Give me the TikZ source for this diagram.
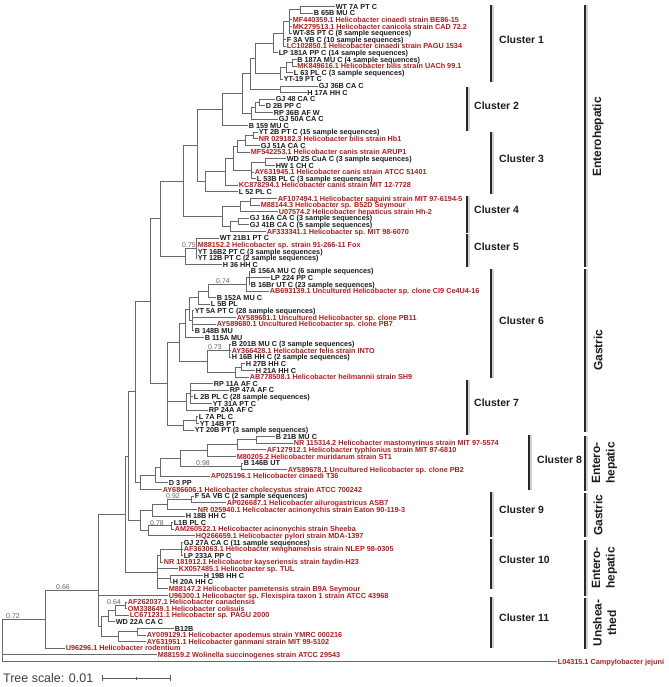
\documentclass[tikz,border=0pt]{standalone}
\usepackage{fontspec}
\setmainfont{Liberation Sans}
\usepackage{tikz}
\definecolor{treegray}{RGB}{105,105,105}
\definecolor{leafred}{RGB}{172,30,30}
\definecolor{leafblack}{RGB}{28,28,28}
\definecolor{bargray}{RGB}{40,40,40}

\begin{document}
\begin{tikzpicture}[x=1bp, y=-1bp,
    leaf/.style={anchor=west, inner xsep=0.6bp, inner ysep=0pt, text height=5.2bp, text depth=0pt, font=\fontsize{7.3}{8}\selectfont\bfseries, text=leafblack},
    redleaf/.style={leaf, text=leafred},
    branch/.style={draw=treegray, line width=0.85bp},
    boot/.style={anchor=south, inner sep=0.4bp, font=\fontsize{7}{8}\selectfont, text=black!62},
    clbar/.style={draw=bargray, line width=1.6bp},
    clshadow/.style={draw=black!18, line width=1.8bp},
    cltext/.style={anchor=west, inner sep=0pt, font=\fontsize{10.5}{12}\selectfont\bfseries, text=leafblack},
    grtext/.style={rotate=90, align=center, inner sep=0pt, font=\fontsize{12}{14.5}\selectfont\bfseries, text=leafblack},
    scalebar/.style={draw=black!65, line width=0.9bp}]

\useasboundingbox (0,0) rectangle (669,687);

% leaves, top to bottom
\node[leaf] (wt7A) at (335,6.6) {WT 7A PT C};
\node[leaf] (b65B) at (313,13.2) {B 65B MU C};
\node[redleaf] (mf440359) at (292,19.8) {MF440359.1 Helicobacter cinaedi strain BE86-15};
\node[redleaf] (mk279513) at (292,26.5) {MK279513.1 Helicobacter canicola strain CAD 72.2};
\node[leaf] (wt8S) at (292,33.1) {WT-8S PT C (8 sample sequences)};
\node[leaf] (f3A) at (286,39.7) {F 3A VB C (10 sample sequences)};
\node[redleaf] (lc102850) at (286,46.3) {LC102850.1 Helicobacter cinaedi strain PAGU 1534};
\node[leaf] (lp181A) at (278,52.9) {LP 181A PP C (14 sample sequences)};
\node[leaf] (b187A) at (296.5,59.5) {B 187A MU C (4 sample sequences)};
\node[redleaf] (mk849616) at (296.5,66.2) {MK849616.1 Helicobacter bilis strain UACh 99.1};
\node[leaf] (l63) at (293,72.8) {L 63 PL C (3 sample sequences)};
\node[leaf] (yt19) at (283,79.4) {YT-19 PT C};
\node[leaf] (gj36B) at (318,86.0) {GJ 36B CA C};
\node[leaf] (h17A) at (306.5,92.6) {H 17A HH C};
\node[leaf] (gj48) at (275,99.2) {GJ 48 CA C};
\node[leaf] (d2B) at (265,105.8) {D 2B PP C};
\node[leaf] (rp36B) at (273,112.5) {RP 36B AF W};
\node[leaf] (gj50A) at (278,119.1) {GJ 50A CA C};
\node[leaf] (b159) at (248,125.7) {B 159 MU C};
\node[leaf] (yt2B) at (258,132.3) {YT 2B PT C (15 sample sequences)};
\node[redleaf] (nr029182) at (258,138.9) {NR 029182.3 Helicobacter bilis strain Hb1};
\node[leaf] (gj51A) at (260,145.5) {GJ 51A CA C};
\node[redleaf] (mf542253) at (250,152.1) {MF542253.1 Helicobacter canis strain ARUP1};
\node[leaf] (wd2S) at (286,158.8) {WD 2S CuA C (3 sample sequences)};
\node[leaf] (hw1) at (275,165.4) {HW 1 CH C};
\node[redleaf] (ay631945) at (254,172.0) {AY631945.1 Helicobacter canis strain ATCC 51401};
\node[leaf] (l53B) at (256,178.6) {L 53B PL C (3 sample sequences)};
\node[redleaf] (kc878294) at (238,185.2) {KC878294.1 Helicobacter canis strain MIT 12-7728};
\node[leaf] (l52) at (238,191.8) {L 52 PL C};
\node[redleaf] (af107494) at (277,198.5) {AF107494.1 Helicobacter saguini strain MIT 97-6194-5};
\node[redleaf] (m88144) at (260,205.1) {M88144.3 Helicobacter sp. B52D Seymour};
\node[redleaf] (u07574) at (278,211.7) {U07574.2 Helicobacter hepaticus strain Hh-2};
\node[leaf] (gj16A) at (249,218.3) {GJ 16A CA C (3 sample sequences)};
\node[leaf] (gj41B) at (249,224.9) {GJ 41B CA C (5 sample sequences)};
\node[redleaf] (af333341) at (266,231.5) {AF333341.1 Helicobacter sp. MIT 98-6070};
\node[leaf] (wt21B1) at (219,238.1) {WT 21B1 PT C};
\node[redleaf] (m88152) at (197,244.8) {M88152.2 Helicobacter sp. strain 91-266-11 Fox};
\node[leaf] (yt16B2) at (197,251.4) {YT 16B2 PT C (3 sample sequences)};
\node[leaf] (yt12B) at (197,258.0) {YT 12B PT C (2 sample sequences)};
\node[leaf] (h36) at (222,264.6) {H 36 HH C};
\node[leaf] (b156A) at (250,271.2) {B 156A MU C (6 sample sequences)};
\node[leaf] (lp224) at (270,277.8) {LP 224 PP C};
\node[leaf] (b16Br) at (250,284.4) {B 16Br UT C (23 sample sequences)};
\node[redleaf] (ab693139) at (269,291.1) {AB693139.1 Uncultured Helicobacter sp. clone CI9 Ce4U4-16};
\node[leaf] (b152A) at (216,297.7) {B 152A MU C};
\node[leaf] (l5B) at (210,304.3) {L 5B PL};
\node[leaf] (yt5A) at (194,310.9) {YT 5A PT C (28 sample sequences)};
\node[redleaf] (ay589681) at (236,317.5) {AY589681.1 Uncultured Helicobacter sp. clone PB11};
\node[redleaf] (ay589680) at (216,324.1) {AY589680.1 Uncultured Helicobacter sp. clone PB7};
\node[leaf] (b148B) at (194,330.8) {B 148B MU};
\node[leaf] (b115A) at (204,337.4) {B 115A MU};
\node[leaf] (b201B) at (231,344.0) {B 201B MU C (3 sample sequences)};
\node[redleaf] (ay366428) at (231,350.6) {AY366428.1 Helicobacter felis strain INTO};
\node[leaf] (h16B) at (231,357.2) {H 16B HH C (2 sample sequences)};
\node[leaf] (h27B) at (245,363.8) {H 27B HH C};
\node[leaf] (h21A) at (255,370.4) {H 21A HH C};
\node[redleaf] (ab778508) at (249,377.1) {AB778508.1 Helicobacter heilmannii strain SH9};
\node[leaf] (rp11A) at (213,383.7) {RP 11A AF C};
\node[leaf] (rp47A) at (229,390.3) {RP 47A AF C};
\node[leaf] (l2B) at (193,396.9) {L 2B PL C (28 sample sequences)};
\node[leaf] (yt31A) at (212,403.5) {YT 31A PT C};
\node[leaf] (rp24A) at (208,410.1) {RP 24A AF C};
\node[leaf] (l7A) at (198,416.7) {L 7A PL C};
\node[leaf] (yt14B) at (199,423.4) {YT 14B PT};
\node[leaf] (yt20B) at (194,430.0) {YT 20B PT (3 sample sequences)};
\node[leaf] (b21B) at (275,436.6) {B 21B MU C};
\node[redleaf] (nr115314) at (293,443.2) {NR 115314.2 Helicobacter mastomyrinus strain MIT 97-5574};
\node[redleaf] (af127912) at (266,449.8) {AF127912.1 Helicobacter typhlonius strain MIT 97-6810};
\node[redleaf] (m80205) at (236,456.4) {M80205.2 Helicobacter muridarum strain ST1};
\node[leaf] (b146B) at (243,463.1) {B 146B UT};
\node[redleaf] (ay589678) at (287,469.7) {AY589678.1 Uncultured Helicobacter sp. clone PB2};
\node[redleaf] (ap025196) at (210,476.3) {AP025196.1 Helicobacter cinaedi T36};
\node[leaf] (d3) at (168,482.9) {D 3 PP};
\node[redleaf] (ay686606) at (162,489.5) {AY686606.1 Helicobacter cholecystus strain ATCC 700242};
\node[leaf] (f5A) at (194,496.1) {F 5A VB C (2 sample sequences)};
\node[redleaf] (ap026687) at (226,502.7) {AP026687.1 Helicobacter ailurogastricus ASB7};
\node[redleaf] (nr025940) at (197,509.4) {NR 025940.1 Helicobacter acinonychis strain Eaton 90-119-3};
\node[leaf] (h18B) at (185,516.0) {H 18B HH C};
\node[leaf] (l1B) at (173,522.6) {L1B PL C};
\node[redleaf] (am260522) at (174,529.2) {AM260522.1 Helicobacter acinonychis strain Sheeba};
\node[redleaf] (hq266659) at (195,535.8) {HQ266659.1 Helicobacter pylori strain MDA-1397};
\node[leaf] (gj27A) at (183,542.4) {GJ 27A CA C (11 sample sequences)};
\node[redleaf] (af363063) at (183,549.0) {AF363063.1 Helicobacter winghamensis strain NLEP 98-0305};
\node[leaf] (lp233A) at (183,555.7) {LP 233A PP C};
\node[redleaf] (nr181912) at (163,562.3) {NR 181912.1 Helicobacter kayseriensis strain faydin-H23};
\node[redleaf] (kx057485) at (178,568.9) {KX057485.1 Helicobacter sp. TUL};
\node[leaf] (h19B) at (203,575.5) {H 19B HH C};
\node[leaf] (h20A) at (172,582.1) {H 20A HH C};
\node[redleaf] (m88147) at (168,588.7) {M88147.2 Helicobacter pametensis strain B9A Seymour};
\node[redleaf] (u96300) at (168,595.4) {U96300.1 Helicobacter sp. Flexispira taxon 1 strain ATCC 43968};
\node[redleaf] (af262037) at (127,602.0) {AF262037.1 Helicobacter canadensis};
\node[redleaf] (om338649) at (127,608.6) {OM338649.1 Helicobacter colisuis};
\node[redleaf] (lc671231) at (129,615.2) {LC671231.1 Helicobacter sp. PAGU 2000};
\node[leaf] (wd22A) at (115,621.8) {WD 22A CA C};
\node[leaf] (b12B) at (174,628.4) {B12B};
\node[redleaf] (ay009129) at (146,635.0) {AY009129.1 Helicobacter apodemus strain YMRC 000216};
\node[redleaf] (ay631951) at (146,641.7) {AY631951.1 Helicobacter ganmani strain MIT 99-5102};
\node[redleaf] (u96296) at (65,648.3) {U96296.1 Helicobacter rodentium};
\node[redleaf] (m88159) at (157,654.9) {M88159.2 Wolinella succinogenes strain ATCC 29543};
\node[redleaf] (l04315) at (557,661.5) {L04315.1 Campylobacter jejuni};

% inner nodes
\coordinate (n1) at (300,9.9);
\coordinate (n2) at (289,21.5);
\coordinate (n3) at (283,33.9);
\coordinate (n4) at (273,43.4);
\coordinate (n5) at (292.5,62.8);
\coordinate (n6) at (286,67.8);
\coordinate (n7) at (280,73.6);
\coordinate (n8) at (255,58.5);
\coordinate (c2a) at (280,89.3);
\coordinate (nR) at (250,73.9);
\coordinate (c2b) at (259,102.5);
\coordinate (c2c) at (255,107.5);
\coordinate (c2d) at (251,113.3);
\coordinate (nQ) at (242,93.6);
\coordinate (nP) at (222,109.6);
\coordinate (c3a) at (253,135.6);
\coordinate (c3b) at (245,140.6);
\coordinate (c3c) at (237,146.4);
\coordinate (c3d) at (265,162.1);
\coordinate (c3e) at (251,170.3);
\coordinate (c3f) at (233,158.4);
\coordinate (c3g) at (225,171.8);
\coordinate (c3h) at (205,181.8);
\coordinate (nS) at (197,145.7);
\coordinate (c4a) at (250,201.8);
\coordinate (c4b) at (240,206.7);
\coordinate (c4c) at (238,221.6);
\coordinate (c4d) at (230,226.6);
\coordinate (c4e) at (222,216.6);
\coordinate (nU) at (183,181.2);
\coordinate (c5a) at (196,248.1);
\coordinate (c5b) at (185,256.3);
\coordinate (nV) at (160,218.8);
\coordinate (g1x) at (249,277.8);
\coordinate (g1) at (246,284.5);
\coordinate (g2) at (208,291.1);
\coordinate (g3) at (198,297.7);
\coordinate (g4) at (192,320.8);
\coordinate (g5) at (189,309.3);
\coordinate (g6) at (185,323.4);
\coordinate (f1) at (229,350.6);
\coordinate (f2) at (241,367.1);
\coordinate (f3) at (235,372.1);
\coordinate (f4) at (207,361.3);
\coordinate (g7) at (179,342.4);
\coordinate (h1) at (190,393.6);
\coordinate (h2) at (186,401.9);
\coordinate (h3) at (196,420.1);
\coordinate (h4) at (183,425.0);
\coordinate (nG) at (167,383.7);
\coordinate (nW) at (150,301.3);
\coordinate (e1) at (256,439.9);
\coordinate (e2) at (237,444.9);
\coordinate (e3) at (207,450.6);
\coordinate (e4) at (241,466.4);
\coordinate (e5) at (180,458.5);
\coordinate (e6) at (160,467.4);
\coordinate (e7) at (155,475.2);
\coordinate (e8) at (140,482.3);
\coordinate (nX) at (135,391.8);
\coordinate (k1) at (191,499.4);
\coordinate (k2) at (167,504.4);
\coordinate (k3) at (152,510.2);
\coordinate (k4) at (171,525.9);
\coordinate (k5) at (148,530.9);
\coordinate (k6) at (140,520.5);
\coordinate (nY) at (128,456.2);
\coordinate (m1) at (181,549.0);
\coordinate (m2) at (160,555.7);
\coordinate (m4) at (170,578.8);
\coordinate (m5) at (157,572.2);
\coordinate (nZ) at (125,514.2);
\coordinate (nZb) at (98,554.8);
\coordinate (p1) at (125,605.3);
\coordinate (p2) at (115,610.2);
\coordinate (p3) at (108,616.0);
\coordinate (p4) at (137,631.7);
\coordinate (p5) at (118,636.7);
\coordinate (p6) at (101,626.4);
\coordinate (nB) at (98,590.6);
\coordinate (nA) at (45,619.5);
\coordinate (root) at (2,640.5);

% branches
\draw[branch] (n1) |- (wt7A.west) (n1) |- (b65B.west);
\draw[branch] (n2) |- (n1) (n2) |- (mf440359.west) (n2) |- (mk279513.west) (n2) |- (wt8S.west);
\draw[branch] (n3) |- (n2) (n3) |- (f3A.west) (n3) |- (lc102850.west);
\draw[branch] (n4) |- (n3) (n4) |- (lp181A.west);
\draw[branch] (n5) |- (b187A.west) (n5) |- (mk849616.west);
\draw[branch] (n6) |- (n5) (n6) |- (l63.west);
\draw[branch] (n7) |- (n6) (n7) |- (yt19.west);
\draw[branch] (n8) |- (n4) (n8) |- (n7);
\draw[branch] (c2a) |- (gj36B.west) (c2a) |- (h17A.west);
\draw[branch] (nR) |- (n8) (nR) |- (c2a);
\draw[branch] (c2b) |- (gj48.west) (c2b) |- (d2B.west);
\draw[branch] (c2c) |- (c2b) (c2c) |- (rp36B.west);
\draw[branch] (c2d) |- (c2c) (c2d) |- (gj50A.west);
\draw[branch] (nQ) |- (nR) (nQ) |- (c2d);
\draw[branch] (nP) |- (nQ) (nP) |- (b159.west);
\draw[branch] (c3a) |- (yt2B.west) (c3a) |- (nr029182.west);
\draw[branch] (c3b) |- (c3a) (c3b) |- (gj51A.west);
\draw[branch] (c3c) |- (c3b) (c3c) |- (mf542253.west);
\draw[branch] (c3d) |- (wd2S.west) (c3d) |- (hw1.west);
\draw[branch] (c3e) |- (c3d) (c3e) |- (ay631945.west) (c3e) |- (l53B.west);
\draw[branch] (c3f) |- (c3c) (c3f) |- (c3e);
\draw[branch] (c3g) |- (c3f) (c3g) |- (kc878294.west);
\draw[branch] (c3h) |- (c3g) (c3h) |- (l52.west);
\draw[branch] (nS) |- (nP) (nS) |- (c3h);
\draw[branch] (c4a) |- (af107494.west) (c4a) |- (m88144.west);
\draw[branch] (c4b) |- (c4a) (c4b) |- (u07574.west);
\draw[branch] (c4c) |- (gj16A.west) (c4c) |- (gj41B.west);
\draw[branch] (c4d) |- (c4c) (c4d) |- (af333341.west);
\draw[branch] (c4e) |- (c4b) (c4e) |- (c4d);
\draw[branch] (nU) |- (nS) (nU) |- (c4e);
\draw[branch] (c5a) |- (wt21B1.west) (c5a) |- (m88152.west) (c5a) |- (yt16B2.west) (c5a) |- (yt12B.west);
\draw[branch] (c5b) |- (c5a) (c5b) |- (h36.west);
\draw[branch] (nV) |- (nU) (nV) |- (c5b);
\draw[branch] (g1x) |- (b156A.west) (g1x) |- (lp224.west) (g1x) |- (b16Br.west);
\draw[branch] (g1) |- (g1x) (g1) |- (ab693139.west);
\draw[branch] (g2) |- (g1) (g2) |- (b152A.west);
\draw[branch] (g3) |- (g2) (g3) |- (l5B.west);
\draw[branch] (g4) |- (yt5A.west) (g4) |- (ay589681.west) (g4) |- (ay589680.west) (g4) |- (b148B.west);
\draw[branch] (g5) |- (g3) (g5) |- (g4);
\draw[branch] (g6) |- (g5) (g6) |- (b115A.west);
\draw[branch] (f1) |- (b201B.west) (f1) |- (ay366428.west) (f1) |- (h16B.west);
\draw[branch] (f2) |- (h27B.west) (f2) |- (h21A.west);
\draw[branch] (f3) |- (f2) (f3) |- (ab778508.west);
\draw[branch] (f4) |- (f1) (f4) |- (f3);
\draw[branch] (g7) |- (g6) (g7) |- (f4);
\draw[branch] (h1) |- (rp11A.west) (h1) |- (rp47A.west) (h1) |- (l2B.west) (h1) |- (yt31A.west);
\draw[branch] (h2) |- (h1) (h2) |- (rp24A.west);
\draw[branch] (h3) |- (l7A.west) (h3) |- (yt14B.west);
\draw[branch] (h4) |- (h3) (h4) |- (yt20B.west);
\draw[branch] (nG) |- (g7) (nG) |- (h2) (nG) |- (h4);
\draw[branch] (nW) |- (nV) (nW) |- (nG);
\draw[branch] (e1) |- (b21B.west) (e1) |- (nr115314.west);
\draw[branch] (e2) |- (e1) (e2) |- (af127912.west);
\draw[branch] (e3) |- (e2) (e3) |- (m80205.west);
\draw[branch] (e4) |- (b146B.west) (e4) |- (ay589678.west);
\draw[branch] (e5) |- (e3) (e5) |- (e4);
\draw[branch] (e6) |- (e5) (e6) |- (ap025196.west);
\draw[branch] (e7) |- (e6) (e7) |- (d3.west);
\draw[branch] (e8) |- (e7) (e8) |- (ay686606.west);
\draw[branch] (nX) |- (nW) (nX) |- (e8);
\draw[branch] (k1) |- (f5A.west) (k1) |- (ap026687.west);
\draw[branch] (k2) |- (k1) (k2) |- (nr025940.west);
\draw[branch] (k3) |- (k2) (k3) |- (h18B.west);
\draw[branch] (k4) |- (l1B.west) (k4) |- (am260522.west);
\draw[branch] (k5) |- (k4) (k5) |- (hq266659.west);
\draw[branch] (k6) |- (k3) (k6) |- (k5);
\draw[branch] (nY) |- (nX) (nY) |- (k6);
\draw[branch] (m1) |- (gj27A.west) (m1) |- (af363063.west) (m1) |- (lp233A.west);
\draw[branch] (m2) |- (m1) (m2) |- (nr181912.west);
\draw[branch] (m4) |- (h19B.west) (m4) |- (h20A.west);
\draw[branch] (m5) |- (m2) (m5) |- (kx057485.west) (m5) |- (m4) (m5) |- (m88147.west);
\draw[branch] (nZ) |- (nY) (nZ) |- (m5);
\draw[branch] (nZb) |- (nZ) (nZb) |- (u96300.west);
\draw[branch] (p1) |- (af262037.west) (p1) |- (om338649.west);
\draw[branch] (p2) |- (p1) (p2) |- (lc671231.west);
\draw[branch] (p3) |- (p2) (p3) |- (wd22A.west);
\draw[branch] (p4) |- (b12B.west) (p4) |- (ay009129.west);
\draw[branch] (p5) |- (p4) (p5) |- (ay631951.west);
\draw[branch] (p6) |- (p3) (p6) |- (p5);
\draw[branch] (nB) |- (nZb) (nB) |- (p6);
\draw[branch] (nA) |- (nB) (nA) |- (u96296.west);
\draw[branch] (root) |- (nA) (root) |- (m88159.west) (root) |- (l04315.west);

% support values
\node[boot] (bs75) at (189,248.1) {0.75};
\node[boot] (bs74) at (223,284.5) {0.74};
\node[boot] (bs73) at (215,350.6) {0.73};
\node[boot] (bs98) at (203,466.4) {0.98};
\node[boot] (bs92) at (173,499.4) {0.92};
\node[boot] (bs78) at (157,525.9) {0.78};
\node[boot] (bs64) at (114,605.3) {0.64};
\node[boot] (bs66) at (63,590.6) {0.66};
\node[boot] (bs72) at (13,619.5) {0.72};

% cluster bars
\draw[clshadow] (493.3,5) -- (493.3,82);   \draw[clbar] (491,5) -- (491,82);
\draw[clshadow] (469.3,87) -- (469.3,131); \draw[clbar] (467,87) -- (467,131);
\draw[clshadow] (493.3,132) -- (493.3,194); \draw[clbar] (491,132) -- (491,194);
\draw[clshadow] (469.3,196) -- (469.3,233); \draw[clbar] (467,196) -- (467,233);
\draw[clshadow] (469.3,234) -- (469.3,267); \draw[clbar] (467,234) -- (467,267);
\draw[clshadow] (493.3,269) -- (493.3,378); \draw[clbar] (491,269) -- (491,378);
\draw[clshadow] (469.3,380) -- (469.3,435); \draw[clbar] (467,380) -- (467,435);
\draw[clshadow] (531.3,435) -- (531.3,490); \draw[clbar] (529,435) -- (529,490);
\draw[clshadow] (493.3,492) -- (493.3,537); \draw[clbar] (491,492) -- (491,537);
\draw[clshadow] (493.3,539) -- (493.3,589); \draw[clbar] (491,539) -- (491,589);
\draw[clshadow] (493.3,597) -- (493.3,648); \draw[clbar] (491,597) -- (491,648);

\node[cltext] (clusterOne) at (499,40) {Cluster 1};
\node[cltext] (clusterTwo) at (474,106) {Cluster 2};
\node[cltext] (clusterThree) at (499,159) {Cluster 3};
\node[cltext] (clusterFour) at (474,210) {Cluster 4};
\node[cltext] (clusterFive) at (474,247) {Cluster 5};
\node[cltext] (clusterSix) at (499,321) {Cluster 6};
\node[cltext] (clusterSeven) at (474,403) {Cluster 7};
\node[cltext] (clusterEight) at (537,460) {Cluster 8};
\node[cltext] (clusterNine) at (499,510) {Cluster 9};
\node[cltext] (clusterTen) at (499,560) {Cluster 10};
\node[cltext] (clusterEleven) at (499,618) {Cluster 11};

% habitat bars
\draw[clshadow] (587.3,5) -- (587.3,267);   \draw[clbar] (585,5) -- (585,267);
\draw[clshadow] (587.3,269) -- (587.3,432); \draw[clbar] (585,269) -- (585,432);
\draw[clshadow] (587.3,436) -- (587.3,491); \draw[clbar] (585,436) -- (585,491);
\draw[clshadow] (587.3,493) -- (587.3,537); \draw[clbar] (585,493) -- (585,537);
\draw[clshadow] (587.3,540) -- (587.3,596); \draw[clbar] (585,540) -- (585,596);
\draw[clshadow] (587.3,598) -- (587.3,649); \draw[clbar] (585,598) -- (585,649);

\node[grtext] (enteroTop) at (598,137) {Enterohepatic};
\node[grtext] (gastricTop) at (598,350) {Gastric};
\node[grtext] (enteroMid) at (604.5,463) {Entero-\\hepatic};
\node[grtext] (gastricLow) at (598,515) {Gastric};
\node[grtext] (enteroLow) at (604.5,568) {Entero-\\hepatic};
\node[grtext] (unsheathed) at (604.5,623) {Unshea-\\thed};

% scale
\node[anchor=west, inner sep=0pt, font=\fontsize{12.5}{14}\selectfont, text=black!75] (treeScale) at (3,678) {Tree scale: 0.01};
\draw[scalebar] (102,678) -- (170,678);
\draw[scalebar] (102,675) -- (102,681) (170,675) -- (170,681) (136,676.5) -- (136,679.5);

\end{tikzpicture}
\end{document}
